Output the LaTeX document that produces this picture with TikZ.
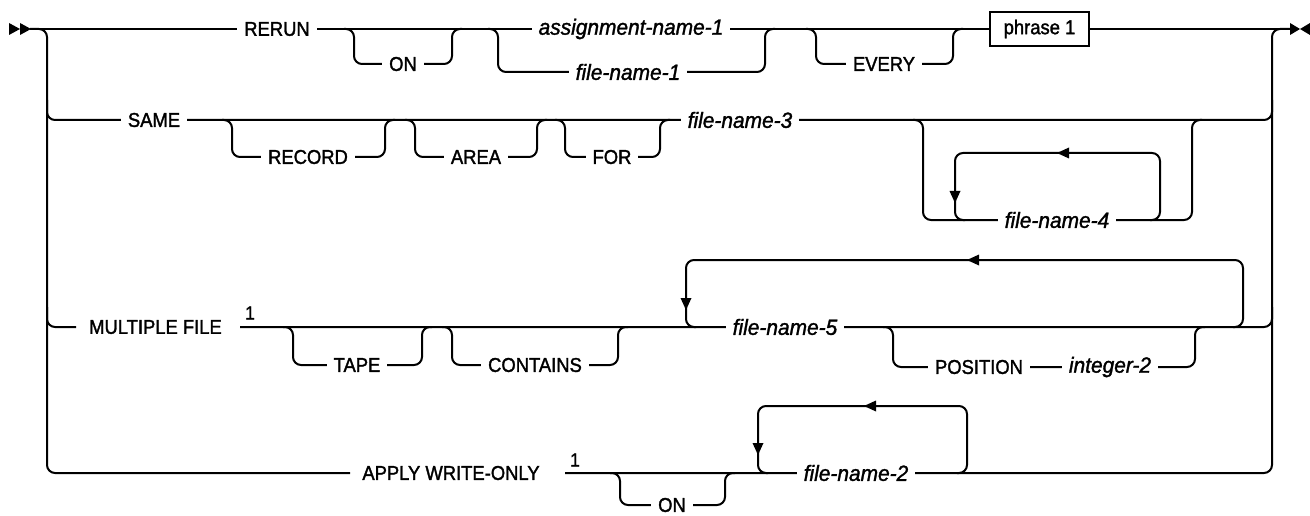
\documentclass[tikz,border=0pt]{standalone}
\usepackage{fontspec}
\setmainfont{Liberation Sans}
\newfontfamily\kwfam[FakeBold=1.6,FakeStretch=0.92]{Liberation Sans}
\newfontfamily\varfam[FakeBold=1.4,FakeStretch=0.95]{Liberation Sans}
\begin{document}
\begin{tikzpicture}[x=1pt,y=-1pt,
  rr/.style={line width=2pt, rounded corners=8pt},
  kw/.style={fill=white, inner xsep=7pt, inner ysep=1pt, font=\kwfam\fontsize{20}{22}\selectfont},
  var/.style={fill=white, inner xsep=7pt, inner ysep=1pt, font=\varfam\itshape\fontsize{22}{24}\selectfont},
  supx/.style={inner sep=0pt, font=\kwfam\fontsize{19}{20}\selectfont}]
\useasboundingbox (0,0) rectangle (1310,516);
% start / end markers
\fill (9,23) -- (20,29) -- (9,35) -- cycle;
\fill (20,23) -- (31,29) -- (20,35) -- cycle;
\fill (1290,23) -- (1300,29) -- (1290,35) -- cycle;
\fill (1310,23) -- (1300,29) -- (1310,35) -- cycle;
% rails
\draw[rr] (30,29) -- (47,29) -- (47,473) -- (350,473);
\draw[rr] (565,473) -- (1272,473) -- (1272,29) -- (1292,29);
% ===== row 1 =====
\draw[rr] (30,29) -- (1292,29);
\draw[rr] (344,29) -- (354,29) -- (354,64) -- (452,64) -- (452,29) -- (462,29);
\draw[rr] (488,29) -- (498,29) -- (498,72) -- (765,72) -- (765,29) -- (775,29);
\draw[rr] (806,29) -- (816,29) -- (816,64) -- (953,64) -- (953,29) -- (963,29);
\node[kw] (rerun) at (277,29) {RERUN};
\node[kw] (on1) at (403,64) {ON};
\node[var] (asg) at (631,29) {assignment-name-1};
\node[var] (fn1) at (628,72) {file-name-1};
\node[kw] (every) at (884,64) {EVERY};
\node[kw, draw, line width=1.6pt, minimum width=99pt, minimum height=34pt, inner xsep=2pt] (ph) at (1039.5,29) {phrase 1};
% ===== row 2 =====
\draw[rr] (47,100) -- (47,120) -- (1272,120) -- (1272,100);
\draw[rr] (222,120) -- (232,120) -- (232,157) -- (385,157) -- (385,120) -- (395,120);
\draw[rr] (405,120) -- (415,120) -- (415,157) -- (537,157) -- (537,120) -- (547,120);
\draw[rr] (555,120) -- (565,120) -- (565,157) -- (660,157) -- (660,120) -- (670,120);
\draw[rr] (913,120) -- (923,120) -- (923,220) -- (1192,220) -- (1192,120) -- (1202,120);
\draw[rr] (1150,220) -- (1160,220) -- (1160,153) -- (955,153) -- (955,220) -- (965,220);
\fill (1057,153) -- (1069,147.5) -- (1069,158.5) -- cycle;
\fill (955,203) -- (949.5,191) -- (960.5,191) -- cycle;
\node[kw] (same) at (154,120) {SAME};
\node[kw] (record) at (308,157) {RECORD};
\node[kw] (area) at (476,157) {AREA};
\node[kw] (for) at (612,157) {FOR};
\node[var] (fn3) at (740,120) {file-name-3};
\node[var] (fn4) at (1057,220) {file-name-4};
% ===== row 3 =====
\draw[rr] (47,307) -- (47,327) -- (76,327);
\draw[rr] (240,327) -- (1272,327) -- (1272,307);
\draw[rr] (283,327) -- (293,327) -- (293,365) -- (422,365) -- (422,327) -- (432,327);
\draw[rr] (442,327) -- (452,327) -- (452,365) -- (618,365) -- (618,327) -- (628,327);
\draw[rr] (1233,327) -- (1243,327) -- (1243,260) -- (686,260) -- (686,327) -- (696,327);
\draw[rr] (883,327) -- (893,327) -- (893,367) -- (1195,367) -- (1195,327) -- (1205,327);
\fill (967,260) -- (979,254.5) -- (979,265.5) -- cycle;
\fill (686,310) -- (680.5,298) -- (691.5,298) -- cycle;
\node[kw, fill=none] (mf) at (155.5,327) {MULTIPLE FILE};
\node[supx] (s1) at (250,313) {1};
\node[kw] (tape) at (357,365) {TAPE};
\node[kw] (cont) at (535,365) {CONTAINS};
\node[var] (fn5) at (785,327) {file-name-5};
\node[kw] (pos) at (979,367) {POSITION};
\node[var] (int2) at (1110,367) {integer-2};
% ===== row 4 =====
\draw[rr] (610,473) -- (620,473) -- (620,505) -- (725,505) -- (725,473) -- (735,473);
\draw[rr] (957,473) -- (967,473) -- (967,406) -- (758,406) -- (758,473) -- (768,473);
\fill (864,406) -- (876,400.5) -- (876,411.5) -- cycle;
\fill (758,455) -- (752.5,443) -- (763.5,443) -- cycle;
\node[kw, fill=none] (apply) at (451,473) {APPLY WRITE-ONLY};
\node[supx] (s2) at (575,460) {1};
\node[kw] (on2) at (672,505) {ON};
\node[var] (fn2) at (856,473) {file-name-2};
\end{tikzpicture}
\end{document}
